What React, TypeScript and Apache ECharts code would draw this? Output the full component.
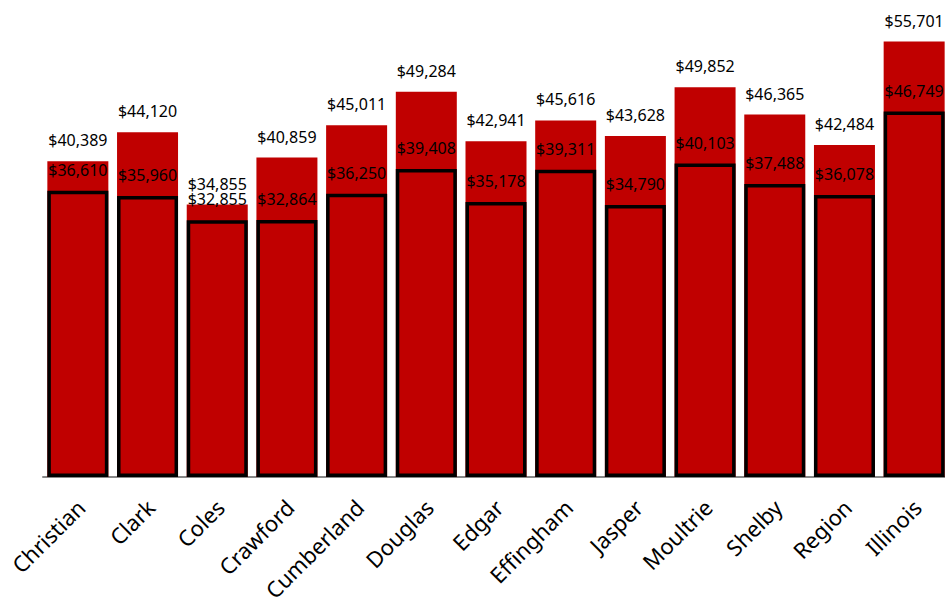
import React, { useEffect, useRef } from "react";
import * as echarts from "echarts";

const categories = ["Christian", "Clark", "Coles", "Crawford", "Cumberland", "Douglas", "Edgar", "Effingham", "Jasper", "Moultrie", "Shelby", "Region", "Illinois"];
const backValues = [40389, 44120, 34855, 40859, 45011, 49284, 42941, 45616, 43628, 49852, 46365, 42484, 55701];
const frontValues = [36610, 35960, 32855, 32864, 36250, 39408, 35178, 39311, 34790, 40103, 37488, 36078, 46749];

const fmt = (v: number) => "$" + v.toLocaleString("en-US");

export default function App() {
  const ref = useRef<HTMLDivElement>(null);
  useEffect(() => {
    if (!ref.current) return;
    const chart = echarts.init(ref.current, undefined, { renderer: "svg" });
    const labelStyle = {
      show: true,
      position: "top" as const,
      distance: 13,
      color: "#000",
      fontSize: 16,
      fontFamily: "Noto Sans",
      formatter: (p: any) => fmt(p.value),
    };
    chart.setOption({
      animation: false,
      grid: { left: 43, width: 906, top: 8, bottom: 129, containLabel: false, outerBoundsMode: "none" },
      xAxis: {
        type: "category",
        data: categories,
        axisLine: { show: true, lineStyle: { color: "#888", width: 2 } },
        axisTick: { show: false },
        axisLabel: {
          rotate: 45,
          margin: 29,
          padding: [0, -4, 0, 0],
          interval: 0,
          color: "#000",
          fontSize: 22,
          fontFamily: "Noto Sans",
        },
      },
      yAxis: {
        type: "value",
        min: 0,
        max: 60000,
        show: false,
        splitLine: { show: false },
      },
      series: [
        {
          type: "bar",
          data: backValues,
          barWidth: 61,
          barGap: "-100%",
          itemStyle: { color: "#C00000" },
          label: labelStyle,
          z: 2,
        },
        {
          type: "bar",
          data: frontValues,
          barWidth: 61,
          itemStyle: { color: "#C00000", borderColor: "#000", borderWidth: 3.5 },
          label: labelStyle,
          z: 3,
        },
      ],
    });
    return () => chart.dispose();
  }, []);
  return <div ref={ref} style={{ width: 945, height: 606, position: "absolute", left: 0, top: 0 }} />;
}
